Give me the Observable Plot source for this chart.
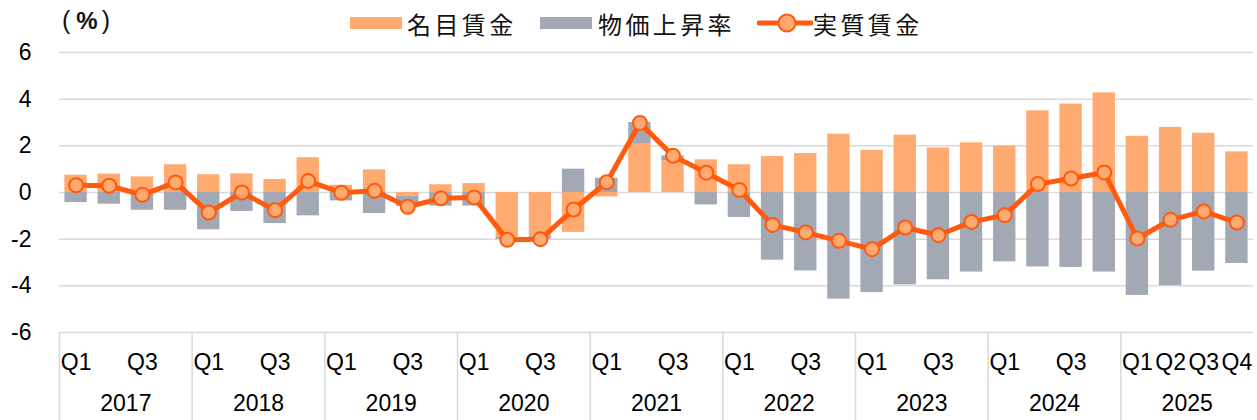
<!DOCTYPE html>
<html>
<head>
<meta charset="utf-8">
<script src="https://cdn.jsdelivr.net/npm/d3@7"></script>
<script src="https://cdn.jsdelivr.net/npm/@observablehq/plot@0.6"></script>
<style>
  html, body { margin: 0; padding: 0; background: #fff; }
  #wrap { position: relative; width: 1257px; height: 420px; font-family: "Liberation Sans", Arial, sans-serif; }
  #unit { position: absolute; left: 62px; top: 3px; font-family: "Liberation Sans", Arial, sans-serif; font-size: 25px; color: #111; line-height: 34px; white-space: nowrap; }
  #unit .p { font-weight: normal; }
  #unit .pc { font-weight: bold; font-size: 24px; margin: 0 4px 0 6px; }
  .lg { position: absolute; top: 6px; height: 34px; display: flex; align-items: center; font-family: "Noto Sans CJK JP", sans-serif; font-size: 24px; letter-spacing: 3.4px; color: #111; white-space: nowrap; }
  .sw { position: absolute; top: 17px; width: 52px; height: 12px; }
  #chart svg { position: absolute; left: 0; top: 0; }
</style>
</head>
<body>
<div id="wrap">
  <div id="chart"></div>
  <div id="unit"><span class="p">(</span><span class="pc">%</span><span class="p">)</span></div>
  <div id="legend"></div>
</div>
<script>
// ---- data ----
const years = ["2017", "2018", "2019", "2020", "2021", "2022", "2023", "2024", "2025"];
const quarterLabels = [
  "Q1", "", "Q3", "",
  "Q1", "", "Q3", "",
  "Q1", "", "Q3", "",
  "Q1", "", "Q3", "",
  "Q1", "", "Q3", "",
  "Q1", "", "Q3", "",
  "Q1", "", "Q3", "",
  "Q1", "", "Q3", "",
  "Q1", "Q2", "Q3", "Q4"
];
// 名目賃金 (nominal wages)
const nominal = [
  0.74, 0.79, 0.67, 1.19,
  0.76, 0.80, 0.56, 1.49,
  0.31, 0.97, -0.15, 0.33,
  0.38, -1.93, -1.88, -1.71,
  -0.19, 2.07, 1.36, 1.40,
  1.19, 1.54, 1.67, 2.50,
  1.81, 2.46, 1.91, 2.13,
  1.99, 3.50, 3.79, 4.27,
  2.41, 2.79, 2.54, 1.74
];
// 物価上昇率 (price contribution)
const prices = [
  -0.43, -0.50, -0.76, -0.76,
  -1.60, -0.81, -1.33, -1.00,
  -0.36, -0.90, -0.45, -0.58,
  -0.58, -0.08, -0.12, 1.00,
  0.61, 0.93, 0.21, -0.53,
  -1.07, -2.90, -3.36, -4.57,
  -4.29, -3.96, -3.74, -3.41,
  -2.97, -3.19, -3.21, -3.41,
  -4.41, -3.99, -3.37, -3.04
];
// 実質賃金 (real wages)
const real = [
  0.31, 0.29, -0.10, 0.43,
  -0.86, 0.00, -0.76, 0.49,
  -0.01, 0.07, -0.61, -0.25,
  -0.21, -2.03, -2.00, -0.73,
  0.44, 2.98, 1.57, 0.85,
  0.11, -1.39, -1.71, -2.07,
  -2.43, -1.50, -1.83, -1.26,
  -0.97, 0.36, 0.60, 0.86,
  -1.97, -1.17, -0.81, -1.29
];
const yTicks = [-6, -4, -2, 0, 2, 4, 6];
const seriesNames = ["名目賃金", "物価上昇率", "実質賃金"];
const colors = { nominal: "#FFAA70", prices: "#A2A8B4", line: "#FF5A0E" };

// ---- build tables ----
const bars = [
  ...nominal.map((v, i) => ({ i, v, s: seriesNames[0] })),
  ...prices.map((v, i) => ({ i, v, s: seriesNames[1] }))
];
const pts = real.map((v, i) => ({ i, v }));
const qTicks = quarterLabels.map((q, i) => q ? i + 0.5 : null).filter(d => d !== null);
const yearStarts = years.map((y, k) => k * 4);
const yearCenters = years.map((y, k) => k * 4 + 2);

const font = "Liberation Sans, Arial, sans-serif";
const fs = 23;

const chart = Plot.plot({
  width: 1257,
  height: 420,
  marginLeft: 59,
  marginRight: 4,
  marginTop: 52,
  marginBottom: 88,
  style: { background: "transparent", fontFamily: font, color: "#000", overflow: "visible" },
  x: { type: "linear", domain: [0, quarterLabels.length], axis: null },
  y: { domain: [-6, 6], axis: null },
  color: { domain: seriesNames.slice(0, 2), range: [colors.nominal, colors.prices] },
  marks: [
    Plot.gridY(yTicks.filter(t => t > -6), { stroke: "#d9d9d9", strokeOpacity: 1, strokeWidth: 1.5 }),
    Plot.ruleY([-6], { stroke: "#d9d9d9", strokeWidth: 1.5 }),
    Plot.axisY(yTicks, {
      anchor: "left", tickSize: 0, tickPadding: 28, tickFormat: d => String(d),
      fontSize: fs, fill: "#000", label: null
    }),
    Plot.rectY(bars, {
      x1: "i", x2: d => d.i + 1, y: "v", fill: "s",
      insetLeft: 5.4, insetRight: 5.4
    }),
    Plot.line(pts, { x: d => d.i + 0.5, y: "v", stroke: colors.line, strokeWidth: 5, strokeLinejoin: "round" }),
    Plot.dot(pts, { x: d => d.i + 0.5, y: "v", r: 7, fill: colors.nominal, stroke: colors.line, strokeWidth: 2 }),
    Plot.axisX(yearStarts, {
      anchor: "bottom", tickSize: 88, tickFormat: () => "", stroke: "#d9d9d9", strokeWidth: 1.5, label: null
    }),
    Plot.axisX(qTicks, {
      anchor: "bottom", tickSize: 0, tickPadding: 21,
      tickFormat: d => quarterLabels[Math.floor(d)], fontSize: fs, fill: "#000", label: null
    }),
    Plot.axisX(yearCenters, {
      anchor: "bottom", tickSize: 0, tickPadding: 62,
      tickFormat: d => years[Math.floor(d / 4)], fontSize: fs, fill: "#000", label: null
    })
  ]
});
document.getElementById("chart").appendChild(chart);

// ---- legend ----
const legend = document.getElementById("legend");
const items = [
  { name: seriesNames[0], swatch: `<div class="sw" style="left:350px;background:${colors.nominal}"></div>`, textLeft: 407 },
  { name: seriesNames[1], swatch: `<div class="sw" style="left:540px;background:${colors.prices}"></div>`, textLeft: 598 },
  { name: seriesNames[2], swatch: `<svg style="position:absolute;left:757px;top:13px" width="56" height="20"><line x1="2" y1="10" x2="54" y2="10" stroke="${colors.line}" stroke-width="5" stroke-linecap="round"/><circle cx="30" cy="10" r="8.5" fill="${colors.nominal}" stroke="${colors.line}" stroke-width="2"/></svg>`, textLeft: 813 }
];
for (const it of items) {
  legend.insertAdjacentHTML("beforeend", it.swatch);
  const t = document.createElement("div");
  t.className = "lg";
  t.style.left = it.textLeft + "px";
  t.textContent = it.name;
  legend.appendChild(t);
}
</script>
</body>
</html>
